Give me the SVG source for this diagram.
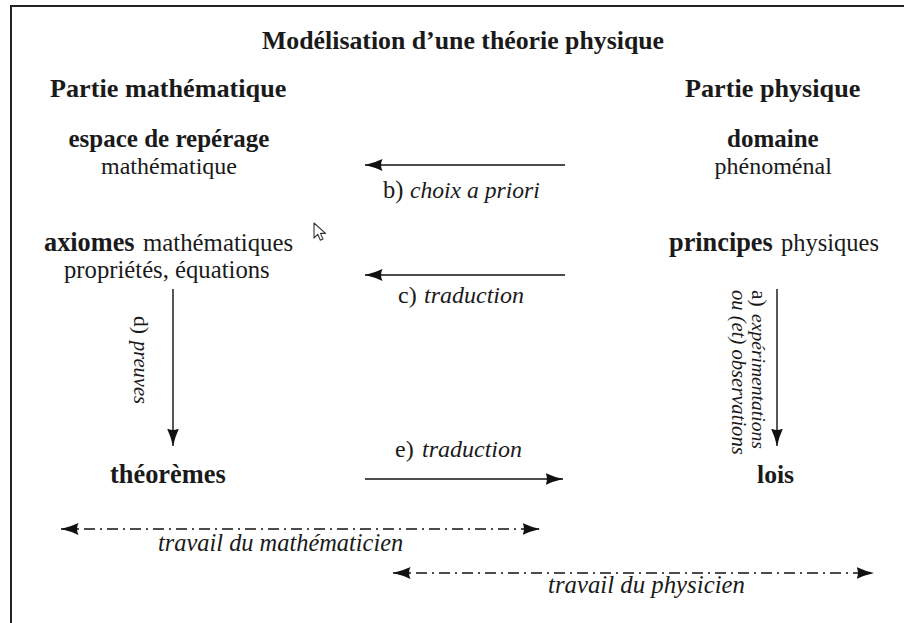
<svg xmlns="http://www.w3.org/2000/svg" width="904" height="623" viewBox="0 0 904 623">
<defs>
<marker id="ah" markerUnits="userSpaceOnUse" markerWidth="18" markerHeight="13" refX="17.5" refY="6.5" orient="auto-start-reverse" viewBox="0 0 18 13">
<path d="M0,0.5 Q8,4.3 17.5,6.5 Q8,8.7 0,12.5 Q3,6.5 0,0.5 z" fill="#111"/>
</marker>
<style>
.ln{stroke:#111;stroke-width:1.4;fill:none}
.dd{stroke-dasharray:11 5 2 5}
</style>
</defs>
<rect width="904" height="623" fill="#fff"/>
<path d="M11,623 V6 H904" stroke="#222" stroke-width="2" fill="none"/>

<g id="title">
<text x="262" y="49" font-family="Liberation Serif" font-size="25.8" font-weight="bold" fill="#1a1a1a">Modélisation d’une théorie physique</text>
</g>
<g id="head-math">
<text x="50" y="97" font-family="Liberation Serif" font-size="26.2" font-weight="bold" fill="#1a1a1a">Partie mathématique</text>
</g>
<g id="head-phys">
<text x="685" y="97" font-family="Liberation Serif" font-size="26.2" font-weight="bold" fill="#1a1a1a">Partie physique</text>
</g>
<g id="espace">
<text x="68.5" y="147" font-family="Liberation Serif" font-size="25" font-weight="bold" fill="#1a1a1a">espace de repérage</text>
<text x="101" y="174" font-family="Liberation Serif" font-size="24" fill="#1a1a1a">mathématique</text>
</g>
<g id="domaine">
<text x="727" y="147" font-family="Liberation Serif" font-size="25" font-weight="bold" fill="#1a1a1a">domaine</text>
<text x="714.5" y="174" font-family="Liberation Serif" font-size="24" fill="#1a1a1a">phénoménal</text>
</g>
<g id="axiomes">
<text x="44" y="251" font-family="Liberation Serif" font-size="26.3" font-weight="bold" fill="#1a1a1a">axiomes</text>
<text x="143" y="251" font-family="Liberation Serif" font-size="24.8" fill="#1a1a1a">mathématiques</text>
<text x="64" y="278" font-family="Liberation Serif" font-size="24.7" fill="#1a1a1a">propriétés, équations</text>
</g>
<g id="principes">
<text x="669" y="251" font-family="Liberation Serif" font-size="26.3" font-weight="bold" fill="#1a1a1a">principes</text>
<text x="781" y="251" font-family="Liberation Serif" font-size="24.5" fill="#1a1a1a">physiques</text>
</g>
<g id="theoremes">
<text x="110" y="483" font-family="Liberation Serif" font-size="26.4" font-weight="bold" fill="#1a1a1a">théorèmes</text>
</g>
<g id="lois">
<text x="757" y="483" font-family="Liberation Serif" font-size="25.7" font-weight="bold" fill="#1a1a1a">lois</text>
</g>

<g id="connectors">
<line class="ln" x1="565" y1="165" x2="365" y2="165" marker-end="url(#ah)"/>
<line class="ln" x1="565" y1="275" x2="365" y2="275" marker-end="url(#ah)"/>
<line class="ln" x1="173" y1="289" x2="173" y2="446" marker-end="url(#ah)"/>
<line class="ln" x1="777" y1="289" x2="777" y2="446" marker-end="url(#ah)"/>
<line class="ln" x1="365" y1="479" x2="563" y2="479" marker-end="url(#ah)"/>
<line class="ln dd" x1="61" y1="529" x2="540" y2="529" marker-start="url(#ah)" marker-end="url(#ah)"/>
<line class="ln dd" x1="393" y1="573" x2="874" y2="573" marker-start="url(#ah)" marker-end="url(#ah)"/>

<text x="383" y="198" font-family="Liberation Serif" font-size="24.5" fill="#1a1a1a">b)</text>
<text x="410" y="198" font-family="Liberation Serif" font-size="23.6" font-style="italic" fill="#1a1a1a">choix a priori</text>
<text x="398" y="303" font-family="Liberation Serif" font-size="24" fill="#1a1a1a">c)</text>
<text x="424" y="303" font-family="Liberation Serif" font-size="24" font-style="italic" fill="#1a1a1a">traduction</text>
<text x="395" y="457" font-family="Liberation Serif" font-size="24" fill="#1a1a1a">e)</text>
<text x="422" y="457" font-family="Liberation Serif" font-size="24" font-style="italic" fill="#1a1a1a">traduction</text>
<text x="158" y="551" font-family="Liberation Serif" font-size="24.4" font-style="italic" fill="#1a1a1a">travail du mathématicien</text>
<text x="548" y="593" font-family="Liberation Serif" font-size="24.8" font-style="italic" fill="#1a1a1a">travail du physicien</text>

<text transform="translate(134,316) rotate(90)" font-family="Liberation Serif" font-size="21.5" fill="#1a1a1a">d)</text>
<text transform="translate(134,341) rotate(90)" font-family="Liberation Serif" font-size="20.5" font-style="italic" fill="#1a1a1a">preuves</text>
<text transform="translate(752,290) rotate(90)" font-family="Liberation Serif" font-size="21.5" fill="#1a1a1a">a)</text>
<text transform="translate(752,314) rotate(90)" font-family="Liberation Serif" font-size="19.6" font-style="italic" fill="#1a1a1a">expérimentations</text>
<text transform="translate(732,290) rotate(90)" font-family="Liberation Serif" font-size="20.6" font-style="italic" fill="#1a1a1a">ou (et) observations</text>
</g>

<path d="M314,223 V238 L317.8,234.4 L320.4,240.2 L323,239.1 L320.5,233.4 L325.5,233.4 Z" fill="#fff" stroke="#333" stroke-width="1.1" stroke-linejoin="round"/>
</svg>
